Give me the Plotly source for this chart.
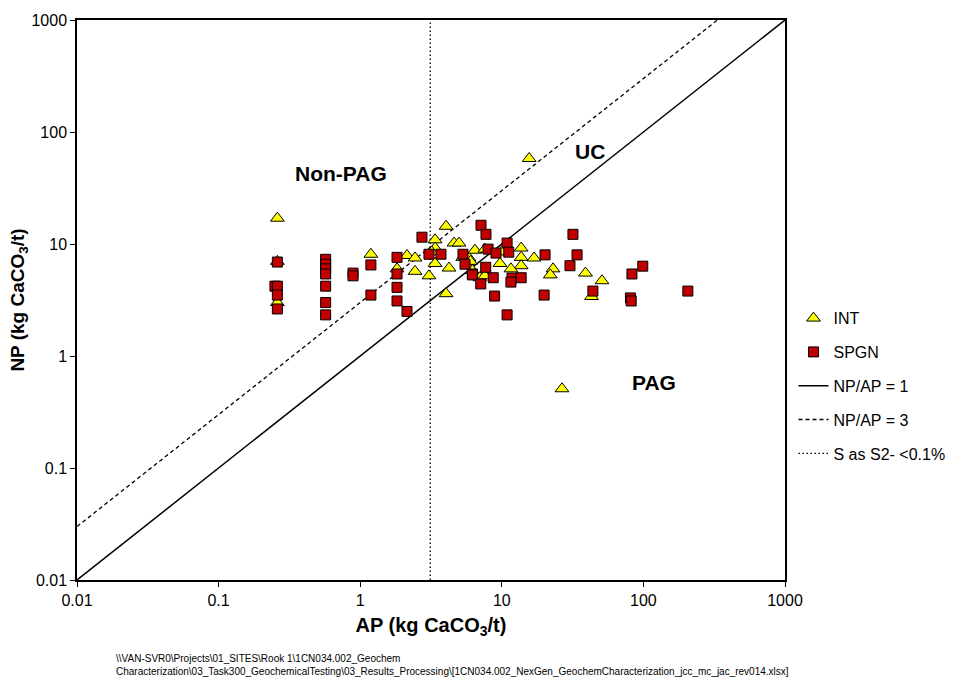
import numpy as np
import plotly.graph_objects as go

# INT samples (AP, NP)
int_ap = [0.26, 0.26, 0.26, 1.19, 1.82, 2.14, 2.44, 2.44, 3.38, 4.04, 3.38, 3.38, 3.06, 4.24,
          4.04, 4.6, 4.99, 5.87, 5.3, 6.46, 7.6, 9.7, 13.7, 13.7, 13.7, 16.9, 11.6, 23.0,
          22.0, 39.0, 51.0, 43.0, 26.6, 15.6, 6.2, 7.0, 7.6, 6.0, 3.2, 10.0]
int_np = [17.0, 7.0, 3.0, 8.1, 6.0, 7.9, 7.5, 5.7, 10.9, 14.4, 9.2, 6.7, 5.2, 6.1,
          3.6, 10.2, 10.2, 7.5, 7.6, 8.8, 9.0, 6.7, 9.2, 7.6, 6.4, 7.5, 6.0, 6.0,
          5.3, 5.5, 4.7, 3.4, 0.51, 58.0, 5.8, 5.0, 5.2, 7.0, 8.5, 8.5]

# SPGN samples (AP, NP)
spgn_ap = [0.25, 0.26, 0.26, 0.26, 0.26,
           0.57, 0.57, 0.57, 0.57, 0.57, 0.57, 0.57,
           0.89, 0.89, 1.19, 1.19,
           1.82, 1.82, 1.82, 1.82, 2.14,
           2.73, 3.06, 3.72,
           5.32, 5.5, 6.2, 6.2,
           7.13, 7.73, 10.9, 11.2, 8.0, 9.1,
           7.7, 7.1, 8.7, 11.8, 13.7, 11.6, 8.9, 10.9,
           20.2, 19.9, 31.8, 34.0, 30.3, 44.0, 99.0, 83.0, 81.0, 82.0, 206.0]
spgn_np = [4.2, 4.2, 3.5, 2.63, 6.9,
           7.3, 6.6, 6.0, 5.4, 4.2, 3.0, 2.33,
           5.5, 5.2, 6.5, 3.5,
           7.6, 5.4, 4.1, 3.1, 2.5,
           11.5, 8.1, 8.1,
           8.1, 6.6, 5.4, 5.3,
           14.7, 12.2, 10.2, 8.45, 9.0, 8.3,
           6.2, 4.4, 5.0, 4.97, 5.0, 4.57, 3.43, 2.33,
           8.0, 3.5, 12.2, 8.0, 6.4, 3.8, 6.34, 5.4, 3.3, 3.1, 3.8]

# reference lines
ratio1_x = [0.01, 1000]
ratio1_y = [0.01, 1000]
ratio3_x = [0.01, 1000 / 3]
ratio3_y = [0.03, 1000]
s_limit_x = [3.125, 3.125]
s_limit_y = [0.01, 1000]

tick_vals = [0.01, 0.1, 1, 10, 100, 1000]
tick_text = ["0.01", "0.1", "1", "10", "100", "1000"]

font_fam = "Arial, Liberation Sans, sans-serif"

fig = go.Figure()

fig.add_trace(go.Scatter(x=ratio1_x, y=ratio1_y, mode="lines", name="NP/AP = 1",
                         line=dict(color="black", width=1.5), legendrank=3,
                         legendgroup="g3"))
fig.add_trace(go.Scatter(x=ratio3_x, y=ratio3_y, mode="lines", name="NP/AP = 3",
                         line=dict(color="black", width=1.3, dash="4px,3px"), legendrank=4,
                         legendgroup="g4"))
fig.add_trace(go.Scatter(x=s_limit_x, y=s_limit_y, mode="lines", name="S as S2- <0.1%",
                         line=dict(color="black", width=1.3, dash="1.5px,2.5px"), legendrank=5,
                         legendgroup="g5"))
fig.add_trace(go.Scatter(x=int_ap, y=int_np, mode="markers", name="INT",
                         marker=dict(symbol="triangle-up", size=12, color="#FFFF00",
                                     line=dict(color="black", width=1)),
                         legendrank=1, legendgroup="g1"))
fig.add_trace(go.Scatter(x=spgn_ap, y=spgn_np, mode="markers", name="SPGN",
                         marker=dict(symbol="square", size=10, color="#C00000",
                                     line=dict(color="black", width=1)),
                         legendrank=2, legendgroup="g2"))

annots = [
    dict(x=np.log10(0.73), y=np.log10(42.7), text="<b>Non-PAG</b>"),
    dict(x=np.log10(42), y=np.log10(67), text="<b>UC</b>"),
    dict(x=np.log10(119), y=np.log10(0.58), text="<b>PAG</b>"),
]
for a in annots:
    fig.add_annotation(x=a["x"], y=a["y"], text=a["text"], showarrow=False,
                       xref="x", yref="y", font=dict(size=21, color="black", family=font_fam))

fig.add_annotation(
    xref="paper", yref="paper", x=0.052, y=-0.126, xanchor="left", yanchor="top",
    align="left", showarrow=False,
    text=("\\\\VAN-SVR0\\Projects\\01_SITES\\Rook 1\\1CN034.002_Geochem<br>"
          "Characterization\\03_Task300_GeochemicalTesting\\03_Results_Processing\\"
          "[1CN034.002_NexGen_GeochemCharacterization_jcc_mc_jac_rev014.xlsx]"),
    font=dict(size=10, color="black", family="Liberation Sans Narrow, Arial Narrow, sans-serif"),
)

axis_common = dict(
    type="log", tickvals=tick_vals, ticktext=tick_text, showgrid=False, zeroline=False,
    showline=True, linecolor="black", linewidth=1.5, mirror=True,
    ticks="outside", ticklen=5, tickcolor="black", tickwidth=1,
    tickfont=dict(size=16, color="black", family=font_fam),
)

fig.update_xaxes(range=[-2, 3], title=dict(text="<b>AP (kg CaCO<sub>3</sub>/t)</b>",
                 font=dict(size=20, color="black", family=font_fam), standoff=10),
                 **axis_common)
fig.update_yaxes(range=[-2, 3], title=dict(text="<b>NP (kg CaCO<sub>3</sub>/t)</b>",
                 font=dict(size=19, color="black", family=font_fam), standoff=2),
                 **axis_common)

fig.update_layout(
    width=964, height=680,
    margin=dict(l=77, r=179, t=18, b=100),
    plot_bgcolor="white", paper_bgcolor="white",
    font=dict(family=font_fam, color="black"),
    legend=dict(x=1.012, y=0.347, xanchor="left", yanchor="middle",
                font=dict(size=16, color="black", family=font_fam),
                tracegroupgap=10, bgcolor="rgba(0,0,0,0)"),
)

fig.write_html("out.html")
